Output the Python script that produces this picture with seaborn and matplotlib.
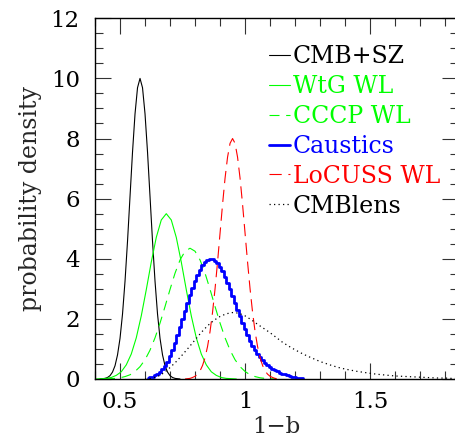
import numpy as np
import pandas as pd
import matplotlib
matplotlib.use('Agg')
import matplotlib.pyplot as plt
from matplotlib.ticker import MultipleLocator, FuncFormatter
import seaborn as sns

# CMB+SZ (black, solid)
cmbsz_x = [0.42, 0.43, 0.44, 0.45, 0.46, 0.47, 0.48, 0.49, 0.50, 0.51, 0.52, 0.53, 0.54, 0.55, 0.56, 0.57,
           0.58, 0.59, 0.60, 0.61, 0.62, 0.63, 0.64, 0.65, 0.66, 0.67, 0.68, 0.69, 0.70, 0.71, 0.72, 0.73, 0.74]
cmbsz_y = [0.0, 0.01, 0.02, 0.05, 0.11, 0.23, 0.44, 0.80, 1.35, 2.16, 3.25, 4.58, 6.07, 7.55, 8.82, 9.69,
           10.0, 9.69, 8.82, 7.55, 6.07, 4.58, 3.25, 2.16, 1.35, 0.80, 0.44, 0.23, 0.11, 0.05, 0.02, 0.01, 0.0]

# WtG WL (green, solid)
wtg_x = [0.405, 0.425, 0.445, 0.465, 0.485, 0.505, 0.525, 0.545, 0.565, 0.585, 0.605, 0.625, 0.645, 0.665,
         0.685, 0.705, 0.725, 0.745, 0.765, 0.785, 0.805, 0.825, 0.845, 0.865, 0.885, 0.905, 0.925, 0.945, 0.965]
wtg_y = [0.0, 0.01, 0.02, 0.05, 0.12, 0.24, 0.47, 0.83, 1.37, 2.10, 2.97, 3.89, 4.71, 5.29,
         5.50, 5.29, 4.71, 3.89, 2.97, 2.10, 1.37, 0.83, 0.47, 0.24, 0.12, 0.05, 0.02, 0.01, 0.0]

# CCCP WL (green, dashed)
cccp_x = [0.44, 0.46, 0.48, 0.50, 0.52, 0.54, 0.56, 0.58, 0.60, 0.62, 0.64, 0.66, 0.68, 0.70, 0.72, 0.74, 0.76,
          0.78, 0.80, 0.82, 0.84, 0.86, 0.88, 0.90, 0.92, 0.94, 0.96, 0.98, 1.00, 1.02, 1.04, 1.06, 1.08, 1.10, 1.12]
cccp_y = [0.0, 0.01, 0.02, 0.04, 0.08, 0.14, 0.25, 0.41, 0.64, 0.96, 1.37, 1.86, 2.41, 2.98, 3.52, 3.96, 4.25,
          4.35, 4.25, 3.96, 3.52, 2.98, 2.41, 1.86, 1.37, 0.96, 0.64, 0.41, 0.25, 0.14, 0.08, 0.04, 0.02, 0.01, 0.0]

# Caustics (blue, histogram steps)
caus_x = [0.61, 0.62, 0.63, 0.64, 0.65, 0.66, 0.67, 0.68, 0.69, 0.70, 0.71, 0.72, 0.73, 0.74, 0.75, 0.76,
          0.77, 0.78, 0.79, 0.80, 0.81, 0.82, 0.83, 0.84, 0.85, 0.86, 0.87, 0.88, 0.89, 0.90, 0.91, 0.92,
          0.93, 0.94, 0.95, 0.96, 0.97, 0.98, 0.99, 1.00, 1.01, 1.02, 1.03, 1.04, 1.05, 1.06, 1.07, 1.08,
          1.09, 1.10, 1.11, 1.12, 1.13, 1.14, 1.15, 1.16, 1.17, 1.18, 1.19, 1.20, 1.21, 1.22, 1.23]
caus_y = [0.02, 0.05, 0.08, 0.12, 0.17, 0.24, 0.32, 0.43, 0.58, 0.77, 0.98, 1.21, 1.46, 1.72, 1.98, 2.25,
          2.52, 2.78, 3.03, 3.27, 3.47, 3.64, 3.78, 3.89, 3.96, 4.00, 3.99, 3.94, 3.85, 3.73, 3.58, 3.40,
          3.20, 2.98, 2.76, 2.53, 2.30, 2.08, 1.87, 1.66, 1.46, 1.27, 1.11, 0.97, 0.84, 0.73, 0.63, 0.54,
          0.46, 0.40, 0.34, 0.29, 0.25, 0.21, 0.18, 0.15, 0.12, 0.10, 0.08, 0.06, 0.04, 0.03, 0.02]

# LoCUSS WL (red, dashed)
locuss_x = [0.76, 0.77, 0.78, 0.79, 0.80, 0.81, 0.82, 0.83, 0.84, 0.85, 0.86, 0.87, 0.88, 0.89, 0.90, 0.91,
            0.92, 0.93, 0.94, 0.95, 0.96, 0.97, 0.98, 0.99, 1.00, 1.01, 1.02, 1.03, 1.04, 1.05, 1.06, 1.07,
            1.08, 1.09, 1.10, 1.11, 1.12, 1.13, 1.14]
locuss_y = [0.0, 0.01, 0.02, 0.05, 0.09, 0.16, 0.27, 0.45, 0.71, 1.08, 1.58, 2.22, 3.00, 3.89, 4.85, 5.81,
            6.68, 7.38, 7.84, 8.00, 7.84, 7.38, 6.68, 5.81, 4.85, 3.89, 3.00, 2.22, 1.58, 1.08, 0.71, 0.45,
            0.27, 0.16, 0.09, 0.05, 0.02, 0.01, 0.0]

# CMBlens (black, dotted)
lens_x = [0.600, 0.625, 0.650, 0.675, 0.700, 0.725, 0.750, 0.775, 0.800, 0.825, 0.850, 0.875, 0.900, 0.925,
          0.950, 0.975, 1.000, 1.025, 1.050, 1.075, 1.100, 1.125, 1.150, 1.175, 1.200, 1.225, 1.250, 1.275,
          1.300, 1.325, 1.350, 1.375, 1.400, 1.425, 1.450, 1.475, 1.500, 1.525, 1.550, 1.575, 1.600, 1.625,
          1.650, 1.675, 1.700, 1.725, 1.750, 1.775, 1.800, 1.825, 1.850]
lens_y = [0.00, 0.02, 0.08, 0.20, 0.38, 0.58, 0.81, 1.05, 1.30, 1.55, 1.77, 1.95, 2.08, 2.17,
          2.21, 2.19, 2.10, 1.97, 1.82, 1.68, 1.54, 1.38, 1.22, 1.09, 0.97, 0.86, 0.76, 0.67,
          0.58, 0.51, 0.44, 0.38, 0.33, 0.29, 0.25, 0.22, 0.19, 0.16, 0.14, 0.12, 0.10, 0.09,
          0.08, 0.07, 0.06, 0.05, 0.04, 0.03, 0.03, 0.02, 0.02]

sns.set_style('ticks')
plt.rcParams['font.family'] = ['DejaVu Serif']
plt.rcParams['lines.solid_joinstyle'] = 'round'

fig = plt.figure(figsize=(4.55, 4.43), dpi=100)
ax = fig.add_axes([0.2088, 0.1445, 0.797, 0.8142])

sns.lineplot(x=cmbsz_x, y=cmbsz_y, ax=ax, color='black', lw=0.8, label='CMB+SZ')
sns.lineplot(x=wtg_x, y=wtg_y, ax=ax, color='#00ff00', lw=0.8, label='WtG WL')
sns.lineplot(x=cccp_x, y=cccp_y, ax=ax, color='#00ff00', lw=0.8, dashes=False,
             linestyle=(0, (9, 6)), label='CCCP WL')
sns.lineplot(x=caus_x, y=caus_y, ax=ax, color='#0000ff', lw=2.0, drawstyle='steps-mid', label='Caustics')
sns.lineplot(x=locuss_x, y=locuss_y, ax=ax, color='#ff0000', lw=0.8, dashes=False,
             linestyle=(0, (11, 6)), label='LoCUSS WL')
sns.lineplot(x=lens_x, y=lens_y, ax=ax, color='black', lw=0.9, dashes=False,
             linestyle=(0, (1, 2.6)), label='CMBlens')

ax.set_xlim(0.4, 1.85)
ax.set_ylim(0, 12)
ax.xaxis.set_major_locator(MultipleLocator(0.5))
ax.xaxis.set_minor_locator(MultipleLocator(0.1))
ax.yaxis.set_major_locator(MultipleLocator(2))
ax.yaxis.set_minor_locator(MultipleLocator(0.5))
ax.xaxis.set_major_formatter(FuncFormatter(lambda v, p: '%g' % v))
ax.yaxis.set_major_formatter(FuncFormatter(lambda v, p: '%g' % v))
ax.tick_params(which='both', direction='in', top=True, right=True, width=0.8, colors='#333333',
               labelcolor='black', labelsize=16.5)
ax.tick_params(axis='x', which='major', length=11.5, pad=9)
ax.tick_params(axis='y', which='major', length=11.5, pad=11)
ax.tick_params(which='minor', length=5.5)
for s in ax.spines.values():
    s.set_linewidth(1.0)
    s.set_color('black')

ax.set_xlabel('1\u2212b', fontsize=16.5, labelpad=2)
ax.set_ylabel('probability density', fontsize=17, labelpad=6)

leg = ax.legend(loc='upper left', bbox_to_anchor=(0.48, 0.925), frameon=False, fontsize=17,
                handlelength=0.9, handletextpad=0.1, labelspacing=0.29, borderpad=0, borderaxespad=0,
                labelcolor='linecolor')

fig.savefig('out.png', dpi=100)
